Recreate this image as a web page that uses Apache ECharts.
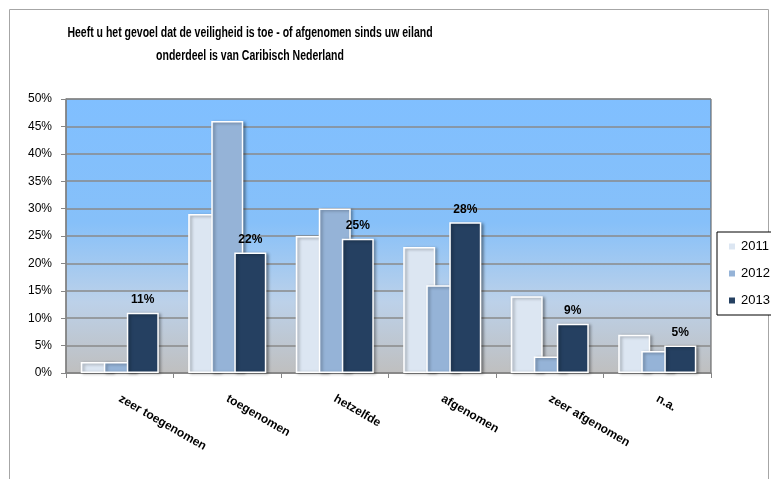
<!doctype html>
<html>
<head>
    <meta charset="UTF-8">
    <title>Veiligheid Caribisch Nederland</title>
    <script src="https://cdn.jsdelivr.net/npm/echarts@6/dist/echarts.min.js"></script>
</head>
<body style="margin: 0">
<div id="main" style="width: 771px; height: 479px;"></div>
<script type="text/javascript">
    // categorieen en percentages per jaar
    var categories = ['zeer toegenomen', 'toegenomen', 'hetzelfde', 'afgenomen', 'zeer afgenomen', 'n.a.'];
    var years = ['2011', '2012', '2013'];
    var data2011 = [2, 29, 25, 23, 14, 7];
    var data2012 = [2, 46, 30, 16, 3, 4];
    var data2013 = [11, 22, 24.5, 27.5, 9, 5];
    var yTicks = [0, 5, 10, 15, 20, 25, 30, 35, 40, 45, 50];
    var titleLines = [
        'Heeft u het gevoel dat de veiligheid is toe - of afgenomen sinds uw eiland',
        'onderdeel is van Caribisch Nederland'
    ];

    var font = "'Liberation Sans', sans-serif";

    var barStyle = function (color) {
        return {
            color: color,
            borderColor: '#ffffff',
            borderWidth: 1.5,
            shadowColor: 'rgba(0, 0, 0, 0.35)',
            shadowBlur: 3,
            shadowOffsetX: 2,
            shadowOffsetY: 1
        };
    };

    // titel als tekst, iets smaller geschaald (Calibri-achtig)
    var titleText = function (txt, y) {
        return {
            type: 'text',
            x: 250,
            y: y,
            scaleX: 0.7,
            silent: true,
            style: {
                text: txt,
                font: 'bold 15px ' + font,
                fill: '#000',
                textAlign: 'center',
                textVerticalAlign: 'middle'
            }
        };
    };

    var myChart = echarts.init(document.getElementById('main'));
    var option = {
        backgroundColor: '#ffffff',
        animation: false,
        graphic: [
            {
                type: 'rect',
                shape: {x: 9.5, y: 9.5, width: 759, height: 480},
                style: {fill: 'none', stroke: '#a6a6a6', lineWidth: 1},
                silent: true
            },
            titleText(titleLines[0], 33),
            titleText(titleLines[1], 56)
        ],
        legend: {
            data: years,
            orient: 'vertical',
            left: 717,
            top: 232,
            icon: 'rect',
            itemWidth: 8,
            itemHeight: 8,
            itemGap: 14,
            padding: [8, 12, 8, 10],
            borderColor: '#000',
            borderWidth: 1,
            backgroundColor: '#fff',
            textStyle: {fontFamily: font, fontSize: 13, color: '#000'}
        },
        grid: {
            left: 66,
            right: 60,
            top: 99,
            bottom: 106,
            show: true,
            borderColor: '#555',
            borderWidth: 1,
            backgroundColor: {
                type: 'linear', x: 0, y: 0, x2: 0, y2: 1,
                colorStops: [
                    {offset: 0, color: '#80bfff'},
                    {offset: 0.45, color: '#86c0f9'},
                    {offset: 0.74, color: '#bcd1e9'},
                    {offset: 1, color: '#bfbfbf'}
                ]
            }
        },
        xAxis: {
            type: 'category',
            data: categories,
            axisLine: {lineStyle: {color: '#868686', width: 1.5}},
            axisTick: {show: true, length: 5, lineStyle: {color: '#868686'}},
            axisLabel: {
                rotate: -30,
                margin: 25,
                interval: 0,
                fontFamily: font,
                fontSize: 12,
                fontWeight: 'bold',
                color: '#000'
            }
        },
        yAxis: {
            type: 'value',
            min: yTicks[0],
            max: yTicks[yTicks.length - 1],
            interval: 5,
            axisLine: {show: true, lineStyle: {color: '#868686', width: 1.5}},
            axisTick: {show: true, length: 5, lineStyle: {color: '#868686'}},
            axisLabel: {
                formatter: '{value}%',
                margin: 14,
                fontFamily: font,
                fontSize: 12,
                color: '#000'
            },
            splitLine: {lineStyle: {color: '#8a8a8a', width: 1.5}}
        },
        series: [
            {
                name: years[0],
                type: 'bar',
                barWidth: 32,
                barGap: '-28%',
                data: data2011,
                itemStyle: barStyle('#dce6f2')
            },
            {
                name: years[1],
                type: 'bar',
                barWidth: 32,
                barGap: '-28%',
                data: data2012,
                itemStyle: barStyle('#95b3d7')
            },
            {
                name: years[2],
                type: 'bar',
                barWidth: 32,
                barGap: '-28%',
                data: data2013,
                itemStyle: barStyle('#254061'),
                label: {
                    show: true,
                    position: 'top',
                    distance: 7,
                    fontFamily: font,
                    fontSize: 12,
                    fontWeight: 'bold',
                    color: '#000',
                    formatter: function (p) {
                        return Math.round(p.value) + '%';
                    }
                }
            }
        ]
    };
    myChart.setOption(option);
</script>
</body>
</html>
